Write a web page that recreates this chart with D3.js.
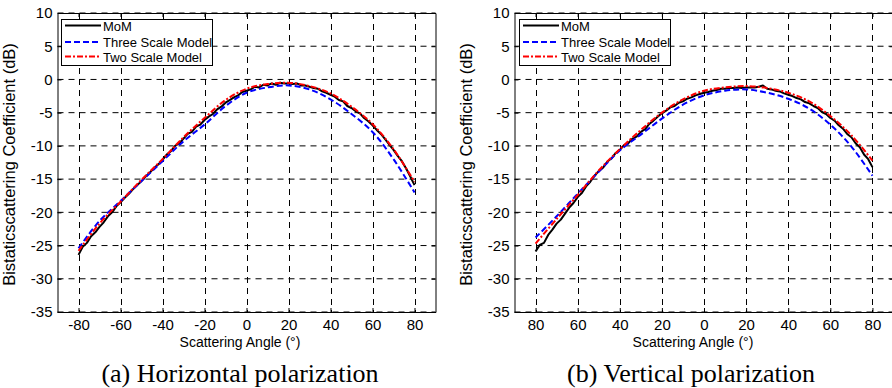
<!DOCTYPE html>
<html><head><meta charset="utf-8">
<script src="https://cdn.jsdelivr.net/npm/d3@7"></script>
<style>
html,body{margin:0;padding:0;background:#fff;}
svg{display:block;}
</style></head>
<body>
<svg id="chart" width="892" height="388"></svg>
<script>
// ---------- data ----------
const yTicks = [10, 5, 0, -5, -10, -15, -20, -25, -30, -35];
const xTicks = [-80, -60, -40, -20, 0, 20, 40, 60, 80];
const seriesNames = ["MoM", "Three Scale Model", "Two Scale Model"];
const captions = ["(a) Horizontal polarization", "(b) Vertical polarization"];

// MoM sampled every 2 degrees from -80 to 80
const momAngles = d3.range(-80, 81, 2);
const momH = [-26.4,-25.2,-24.6,-23.6,-23.0,-22.2,-21.5,-20.6,-20.0,-19.1,-18.5,-17.8,-17.2,-16.5,-15.9,-15.3,-14.6,-14.0,-13.3,-12.8,-12.1,-11.3,-10.8,-10.0,-9.6,-8.9,-8.2,-7.9,-7.1,-6.8,-6.1,-5.6,-5.2,-4.5,-4.1,-3.5,-3.1,-2.7,-2.4,-1.9,-1.7,-1.5,-1.1,-1.2,-0.8,-0.9,-0.6,-0.8,-0.5,-0.6,-0.6,-0.7,-0.6,-0.9,-0.9,-1.1,-1.3,-1.4,-1.8,-2.0,-2.3,-2.6,-3.1,-3.3,-4.0,-4.3,-4.8,-5.1,-5.8,-6.3,-6.9,-7.6,-8.2,-9.0,-9.8,-10.6,-11.5,-12.3,-13.4,-14.6,-15.9];
const momV = [-25.9,-24.9,-24.6,-23.4,-22.6,-21.7,-21.1,-20.2,-19.3,-18.6,-17.7,-17.1,-16.1,-15.4,-14.5,-13.8,-13.3,-12.4,-11.9,-11.1,-10.6,-9.9,-9.6,-8.9,-8.6,-7.9,-7.5,-6.7,-6.2,-5.6,-5.1,-4.7,-4.2,-4.0,-3.5,-3.3,-2.9,-2.7,-2.4,-2.2,-2.0,-1.9,-1.7,-1.6,-1.4,-1.4,-1.3,-1.3,-1.2,-1.3,-1.2,-1.2,-1.2,-1.1,-0.9,-1.4,-1.5,-1.7,-1.8,-2.1,-2.3,-2.5,-2.8,-3.0,-3.4,-3.6,-4.0,-4.3,-4.9,-5.2,-5.8,-6.2,-6.9,-7.4,-8.2,-8.7,-9.6,-10.2,-11.3,-12.0,-13.2];

// models sampled every 10 degrees from -80 to 80
const modelAngles = [-80,-70,-60,-50,-40,-30,-20,-10,0,10,20,30,40,50,60,70,80];
const threeH = [-25.4,-21.3,-18.3,-15.3,-12.3,-9.3,-6.8,-4.0,-2.0,-1.2,-0.9,-1.5,-3.0,-5.2,-7.9,-12.0,-17.0];
const twoH   = [-25.8,-21.7,-18.4,-15.1,-12.0,-8.7,-5.8,-3.1,-1.4,-0.7,-0.5,-1.0,-2.1,-4.1,-6.7,-10.5,-15.4];
const threeV = [-23.8,-20.6,-17.2,-13.9,-10.7,-8.3,-5.9,-3.8,-2.4,-1.7,-1.5,-2.0,-2.9,-4.4,-6.8,-10.1,-14.5];
const twoV   = [-24.7,-21.0,-17.4,-13.7,-10.5,-7.6,-5.0,-3.0,-1.7,-1.2,-1.0,-1.3,-2.0,-3.3,-5.5,-8.4,-12.2];

// ---------- drawing ----------
const svg = d3.select("#chart");
const SANS = "Liberation Sans, Arial, sans-serif";
const SERIF = "Liberation Serif, Times New Roman, serif";

const panels = [
  {x0: 57.5, x1: 435.5, mom: momH, three: threeH, two: twoH, absTicks: false,
   legend: {x: 61, y: 19, w: 151, h: 46}, ylabX: 14, xlabX: 240, captionX: 240, caption: captions[0]},
  {x0: 514.5, x1: 893.5, mom: momV, three: threeV, two: twoV, absTicks: true,
   legend: {x: 519, y: 19, w: 151, h: 46}, ylabX: 471, xlabX: 693, captionX: 691, caption: captions[1]}
];

const yTop = 13, yBot = 312;
const styles = [
  {color: "#000000", dash: null, width: 2},
  {color: "#0000ff", dash: "6,3", width: 2},
  {color: "#ff0000", dash: "6,2,2,2", width: 2}
];

panels.forEach(p => {
  const x = d3.scaleLinear().domain([-90, 90]).range([p.x0, p.x1]);
  const y = d3.scaleLinear().domain([-35, 10]).range([yBot, yTop]);
  const g = svg.append("g");

  // grid
  const grid = g.append("g").attr("stroke", "#000").attr("stroke-width", 1)
    .attr("stroke-dasharray", "6,5").attr("fill", "none");
  xTicks.forEach(t => grid.append("line")
    .attr("x1", Math.round(x(t)) + 0.5).attr("x2", Math.round(x(t)) + 0.5)
    .attr("y1", yTop).attr("y2", yBot));
  yTicks.forEach(t => grid.append("line")
    .attr("x1", p.x0).attr("x2", p.x1).attr("y1", y(t)).attr("y2", y(t)));

  // axes
  const fmt = p.absTicks ? (d => String(Math.abs(d))) : (d => String(d));
  const bottom = g.append("g").attr("transform", `translate(0,${yBot})`)
    .call(d3.axisBottom(x).tickValues(xTicks).tickFormat(fmt).tickSizeInner(-4).tickSizeOuter(0).tickPadding(7));
  const top = g.append("g").attr("transform", `translate(0,${yTop})`)
    .call(d3.axisTop(x).tickValues(xTicks).tickFormat("").tickSizeInner(-4).tickSizeOuter(0));
  const left = g.append("g").attr("transform", `translate(${p.x0},0)`)
    .call(d3.axisLeft(y).tickValues(yTicks).tickFormat(d => String(d)).tickSizeInner(-4).tickSizeOuter(0).tickPadding(5));
  const right = g.append("g").attr("transform", `translate(${p.x1},0)`)
    .call(d3.axisRight(y).tickValues(yTicks).tickFormat("").tickSizeInner(-4).tickSizeOuter(0));
  [bottom, top, left, right].forEach(a => {
    a.selectAll("path").attr("stroke", "#000").attr("stroke-width", 1);
    a.selectAll("line").attr("stroke", "#000");
    a.selectAll("text").attr("font-family", SANS).attr("font-size", 15).attr("fill", "#000");
  });

  // curves
  const clipId = "clip" + Math.round(p.x0);
  svg.append("clipPath").attr("id", clipId).append("rect")
    .attr("x", p.x0).attr("y", yTop).attr("width", p.x1 - p.x0).attr("height", yBot - yTop);
  const curves = g.append("g").attr("clip-path", `url(#${clipId})`);
  const momLine = d3.line().x((d, i) => x(momAngles[i])).y(d => y(d));
  const modelLine = d3.line().x((d, i) => x(modelAngles[i])).y(d => y(d)).curve(d3.curveCatmullRom.alpha(0.5));
  const data = [[p.mom, momLine], [p.three, modelLine], [p.two, modelLine]];
  data.forEach((dd, k) => {
    const s = styles[k];
    curves.append("path").attr("d", dd[1](dd[0])).attr("fill", "none")
      .attr("stroke", s.color).attr("stroke-width", s.width)
      .attr("stroke-dasharray", s.dash).attr("stroke-linejoin", "round");
  });

  // legend
  const L = p.legend;
  const lg = g.append("g");
  lg.append("rect").attr("x", L.x + 0.5).attr("y", L.y + 0.5).attr("width", L.w).attr("height", L.h)
    .attr("fill", "#fff").attr("stroke", "#000").attr("stroke-width", 1);
  const rowY = [25.5, 42, 56.5];
  seriesNames.forEach((name, k) => {
    const s = styles[k];
    lg.append("line").attr("x1", L.x + 4).attr("x2", L.x + 40)
      .attr("y1", rowY[k]).attr("y2", rowY[k])
      .attr("stroke", s.color).attr("stroke-width", s.width).attr("stroke-dasharray", s.dash);
    lg.append("text").attr("x", L.x + 42).attr("y", rowY[k] + 5)
      .attr("font-family", SANS).attr("font-size", 13).attr("fill", "#000").text(name);
  });

  // axis labels
  g.append("text").attr("x", p.xlabX).attr("y", 347)
    .attr("text-anchor", "middle").attr("font-family", SANS).attr("font-size", 14)
    .text("Scattering Angle (°)");
  g.append("text").attr("transform", `translate(${p.ylabX + 1},${(yTop + yBot) / 2 + 2}) rotate(-90)`)
    .attr("text-anchor", "middle").attr("font-family", SANS).attr("font-size", 16.5)
    .text("Bistaticscattering Coefficient (dB)");

  // caption
  g.append("text").attr("x", p.captionX).attr("y", 382).attr("text-anchor", "middle")
    .attr("font-family", SERIF).attr("font-size", 26).text(p.caption);
});
</script>
</body></html>
